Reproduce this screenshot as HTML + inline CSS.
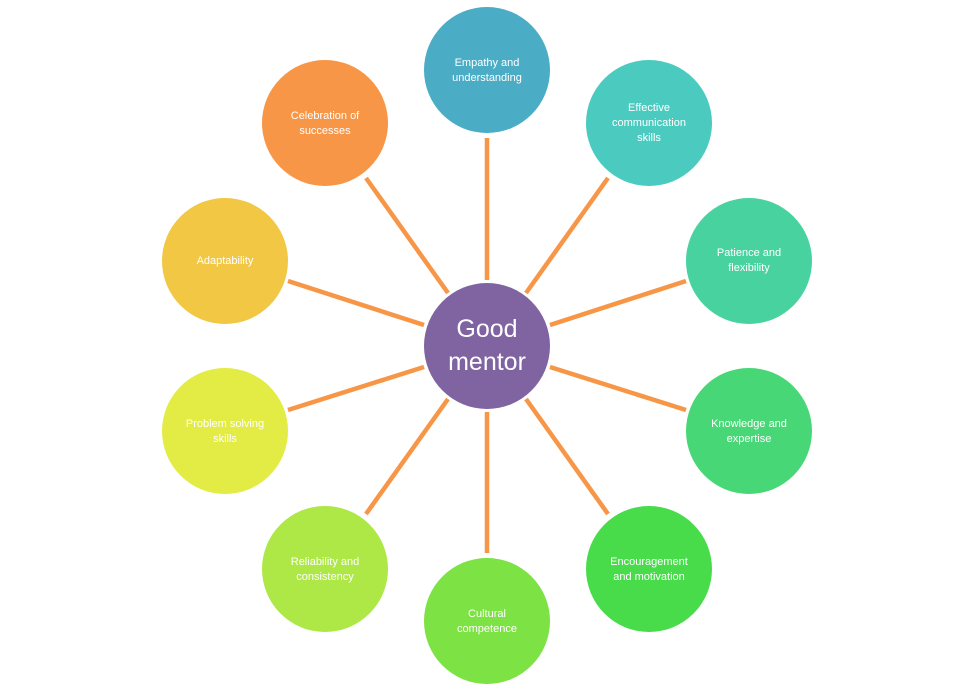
<!DOCTYPE html>
<html><head><meta charset="utf-8"><style>
html,body{margin:0;padding:0;background:#fff;}
svg{display:block;}
text{font-family:"Liberation Sans",sans-serif;fill:#fff;text-anchor:middle;}
</style></head><body>
<svg width="967" height="691" viewBox="0 0 967 691" xmlns="http://www.w3.org/2000/svg">
<g stroke="#F79646" stroke-width="4.5" stroke-linecap="butt">
<line x1="487" y1="138" x2="487" y2="280"/>
<line x1="608" y1="178" x2="526" y2="293"/>
<line x1="686" y1="281" x2="550" y2="325"/>
<line x1="686" y1="410" x2="550" y2="367"/>
<line x1="608" y1="514" x2="526" y2="399"/>
<line x1="487" y1="553" x2="487" y2="412"/>
<line x1="366" y1="514" x2="448" y2="399"/>
<line x1="288" y1="410" x2="424" y2="367"/>
<line x1="288" y1="281" x2="424" y2="325"/>
<line x1="366" y1="178" x2="448" y2="293"/>
</g>
<circle cx="487" cy="70" r="63" fill="#4BACC6"/>
<circle cx="649" cy="123" r="63" fill="#4BCBC0"/>
<circle cx="749" cy="261" r="63" fill="#48D2A0"/>
<circle cx="749" cy="431" r="63" fill="#47D776"/>
<circle cx="649" cy="569" r="63" fill="#48DC4B"/>
<circle cx="487" cy="621" r="63" fill="#7DE244"/>
<circle cx="325" cy="569" r="63" fill="#ADE846"/>
<circle cx="225" cy="431" r="63" fill="#E2EC45"/>
<circle cx="225" cy="261" r="63" fill="#F2C744"/>
<circle cx="325" cy="123" r="63" fill="#F79646"/>
<circle cx="487" cy="346" r="63" fill="#8064A2"/>
<g font-size="11">
<text x="487" y="66">Empathy and</text><text x="487" y="81">understanding</text>
<text x="649" y="111">Effective</text><text x="649" y="126">communication</text><text x="649" y="141">skills</text>
<text x="749" y="256">Patience and</text><text x="749" y="271">flexibility</text>
<text x="749" y="427">Knowledge and</text><text x="749" y="442">expertise</text>
<text x="649" y="565">Encouragement</text><text x="649" y="580">and motivation</text>
<text x="487" y="617">Cultural</text><text x="487" y="632">competence</text>
<text x="325" y="565">Reliability and</text><text x="325" y="580">consistency</text>
<text x="225" y="427">Problem  solving</text><text x="225" y="442">skills</text>
<text x="225" y="264">Adaptability</text>
<text x="325" y="119">Celebration of</text><text x="325" y="134">successes</text>
</g>
<text x="487" y="337" font-size="25">Good</text>
<text x="487" y="370" font-size="25">mentor</text>
</svg>
</body></html>
